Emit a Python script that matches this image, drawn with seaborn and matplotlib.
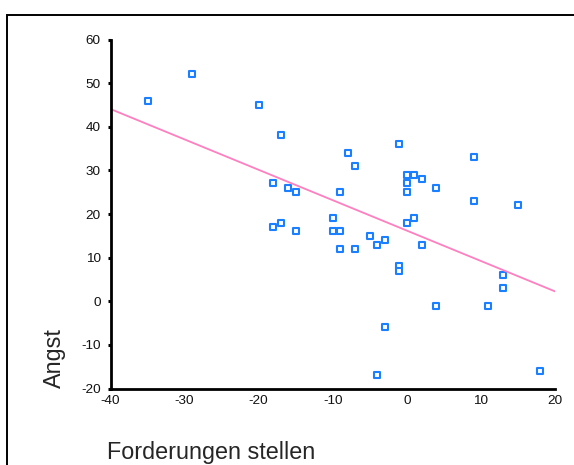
import matplotlib
matplotlib.use("Agg")
import matplotlib.pyplot as plt
import seaborn as sns
import pandas as pd
from matplotlib.patches import Rectangle

forderungen = [-35, -29, -20, -17, -1, -8, -7, 9, 0, 1, 2, 0, -18, -16, -15, -9, 0, 4, 9, 15,
               -10, 1, 0, -17, -18, -15, -10, -9, -5, -3, -4, 2, -9, -7, -1, -1, 13, 13, 4, 11,
               -3, -4, 18]
angst = [46, 52, 45, 38, 36, 34, 31, 33, 29, 29, 28, 27, 27, 26, 25, 25, 25, 26, 23, 22,
         19, 19, 18, 18, 17, 16, 16, 16, 15, 14, 13, 13, 12, 12, 8, 7, 6, 3, -1, -1,
         -6, -17, -16]
x_ticks = [-40, -30, -20, -10, 0, 10, 20]
y_ticks = [-20, -10, 0, 10, 20, 30, 40, 50, 60]

df = pd.DataFrame({"Forderungen stellen": forderungen, "Angst": angst})

sns.set_style("white")
plt.rcParams['font.family'] = ['Liberation Sans', 'DejaVu Sans']
plt.rcParams['axes.unicode_minus'] = False

W, H = 574, 465
fig = plt.figure(figsize=(W / 100, H / 100), dpi=100)
ax = fig.add_axes([110.5 / W, 1 - 388.5 / H, (555 - 110.5) / W, (388.5 - 39.5) / H])

# outer frame
fig.patches.append(Rectangle((6.5 / W, -0.1), 1.2, 1 - 15 / H + 0.1, transform=fig.transFigure,
                             fill=False, edgecolor="black", linewidth=1.4))

ax.set_xlim(-40, 20)
ax.set_ylim(-20, 60)
sns.regplot(data=df, x="Forderungen stellen", y="Angst", ax=ax, ci=None, truncate=False,
            marker="s",
            scatter_kws=dict(s=13, facecolors="white", edgecolors="#1a80ff",
                             linewidths=1.5, alpha=1),
            line_kws=dict(color="#ff7fc0", linewidth=1.3))

ax.set_xlim(-40, 20)
ax.set_ylim(-20, 60)
ax.set_xticks(x_ticks)
ax.set_yticks(y_ticks)
ax.set_xlabel("")
ax.set_ylabel("")
for s in ["top", "right"]:
    ax.spines[s].set_visible(False)
for s in ["left", "bottom"]:
    ax.spines[s].set_color("black")
    ax.spines[s].set_linewidth(2)
ax.tick_params(axis="y", left=True, length=2.5, width=2.2, color="black", pad=4.5,
               labelsize=9.7, labelcolor="#111111")
ax.tick_params(axis="x", bottom=True, length=0, pad=5, labelsize=9.7, labelcolor="#111111")

fig.text(54 / W, 1 - 388 / H, "Angst", rotation=90, ha="center", va="bottom", fontsize=16.8)
fig.text(107 / W, 1 - 459 / H, "Forderungen stellen", ha="left", va="baseline", fontsize=16.8)

fig.savefig("out.png", dpi=100)
